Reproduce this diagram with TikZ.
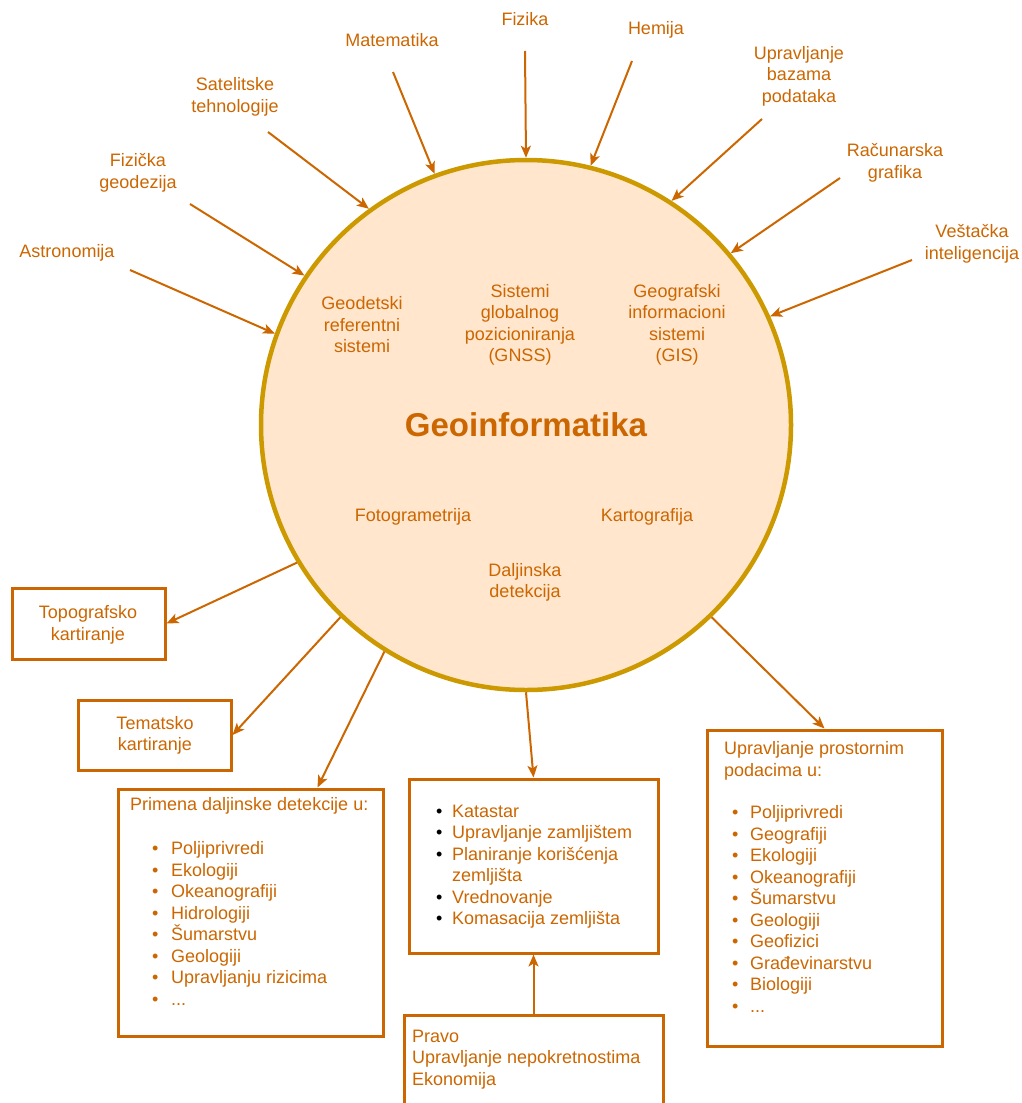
\documentclass[tikz,border=0pt]{standalone}
\usepackage{fontspec}
\setmainfont{Liberation Sans}
\usetikzlibrary{arrows.meta,calc}
\definecolor{ortext}{HTML}{CC6600}
\definecolor{orline}{HTML}{CC6600}
\definecolor{circedge}{HTML}{CC9900}
\definecolor{circfill}{HTML}{FFE6CC}
\newcommand{\obul}[1]{\makebox[#1][l]{\textbullet}}
\newcommand{\kbul}{\makebox[16pt][l]{\textcolor{black}{\textbullet}}}
\begin{document}
\begin{tikzpicture}[x=1pt,y=-1pt,
  lbl/.style={text=ortext, font=\fontsize{18}{21.5}\selectfont, align=center, inner sep=0pt},
  lst/.style={text=ortext, font=\fontsize{18}{21.5}\selectfont, align=left, inner sep=0pt, anchor=west},
  arr/.style={draw=orline, line width=2pt, -{Stealth[length=12pt,width=10pt,inset=3pt]}},
  box/.style={draw=orline, line width=3pt, rectangle, inner sep=0pt},
]
\useasboundingbox (0,0) rectangle (1021,1103);
\clip (0,0) rectangle (1021,1103);

% central circle
\node[circle, draw=circedge, fill=circfill, line width=4.5pt, minimum size=530pt, inner sep=0pt,
      text=ortext, font=\bfseries\fontsize{33}{40}\selectfont] (geo) at (526,425) {Geoinformatika};

% inner labels
\node[lbl] (geod) at (362,325) {Geodetski\\referentni\\sistemi};
\node[lbl] (gnss) at (520,325) {Sistemi\\globalnog\\pozicioniranja\\(GNSS)};
\node[lbl] (gis) at (677,325) {Geografski\\informacioni\\sistemi\\(GIS)};
\node[lbl] (foto) at (413,517) {Fotogrametrija};
\node[lbl] (karto) at (647,517) {Kartografija};
\node[lbl] (dalj) at (525,582.5) {Daljinska\\detekcija};

% outer source labels
\node[lbl] (astr) at (67,253) {Astronomija};
\node[lbl] (fgeo) at (138,173) {Fizička\\geodezija};
\node[lbl] (sat) at (235,97) {Satelitske\\tehnologije};
\node[lbl] (mat) at (392,40) {Matematika};
\node[lbl] (fiz) at (525,19) {Fizika};
\node[lbl] (hem) at (656,30) {Hemija};
\node[lbl] (ubp) at (799,76) {Upravljanje\\bazama\\podataka};
\node[lbl] (rg) at (895,163) {Računarska\\grafika};
\node[lbl] (vi) at (972,244) {Veštačka\\inteligencija};

% tails of incoming arrows
\coordinate (astr-t) at (130,270);
\coordinate (fgeo-t) at (190,204);
\coordinate (sat-t) at (268,132);
\coordinate (mat-t) at (393,72);
\coordinate (fiz-t) at (525,51);
\coordinate (hem-t) at (632,61);
\coordinate (ubp-t) at (762,119);
\coordinate (rg-t) at (840,178);
\coordinate (vi-t) at (912,260);

\draw[arr] (astr-t) -- (geo.160.7);
\draw[arr] (fgeo-t) -- (geo.146.7);
\draw[arr] (sat-t) -- (geo.126.9);
\draw[arr] (mat-t) -- (geo.110.4);
\draw[arr] (fiz-t) -- (geo.90);
\draw[arr] (hem-t) -- (geo.76.6);
\draw[arr] (ubp-t) -- (geo.57.8);
\draw[arr] (rg-t) -- (geo.40.3);
\draw[arr] (vi-t) -- (geo.24.5);

% boxes
\node[box, minimum width=153pt, minimum height=71pt] (topo) at (88.5,623.5) {};
\node[lbl] at (88,625) {Topografsko\\kartiranje};

\node[box, minimum width=153pt, minimum height=70pt] (tema) at (154.5,735) {};
\node[lbl] at (155,735.5) {Tematsko\\kartiranje};

\node[box, minimum width=265pt, minimum height=247pt] (prim) at (250.5,912.5) {};
\node[lst] at (130,806) {Primena daljinske detekcije u:};
\node[lst] at (152,923.5) {\obul{19pt}Poljiprivredi\\\obul{19pt}Ekologiji\\\obul{19pt}Okeanografiji\\\obul{19pt}Hidrologiji\\\obul{19pt}Šumarstvu\\\obul{19pt}Geologiji\\\obul{19pt}Upravljanju rizicima\\\obul{19pt}...};

\node[box, minimum width=249pt, minimum height=174pt] (kat) at (533.5,866) {};
\node[lst] at (436,866.5) {\kbul Katastar\\\kbul Upravljanje zamljištem\\\kbul Planiranje korišćenja\\\makebox[16pt]{}zemljišta\\\kbul Vrednovanje\\\kbul Komasacija zemljišta};

\node[box, minimum width=259pt, minimum height=110pt] (pravo) at (533.5,1070) {};
\node[lst] at (412,1059.5) {Pravo\\Upravljanje nepokretnostima\\Ekonomija};

\node[box, minimum width=235pt, minimum height=316pt] (prost) at (824.5,888) {};
\node[lst] at (724,761) {Upravljanje prostornim\\podacima u:};
\node[lst] at (732,909) {\obul{18pt}Poljiprivredi\\\obul{18pt}Geografiji\\\obul{18pt}Ekologiji\\\obul{18pt}Okeanografiji\\\obul{18pt}Šumarstvu\\\obul{18pt}Geologiji\\\obul{18pt}Geofizici\\\obul{18pt}Građevinarstvu\\\obul{18pt}Biologiji\\\obul{18pt}...};

% outgoing arrows
\draw[arr] (geo.211.6) -- (topo.east);
\draw[arr] (geo.226.6) -- (tema.east);
\draw[arr] (geo.238.2) -- ($(prim.north west)!0.75!(prim.north east)$);
\draw[arr] (geo.270) -- (kat.north);
\draw[arr] (pravo.north) -- (kat.south);
\draw[arr] (geo.314.8) -- (prost.north);
\end{tikzpicture}
\end{document}
